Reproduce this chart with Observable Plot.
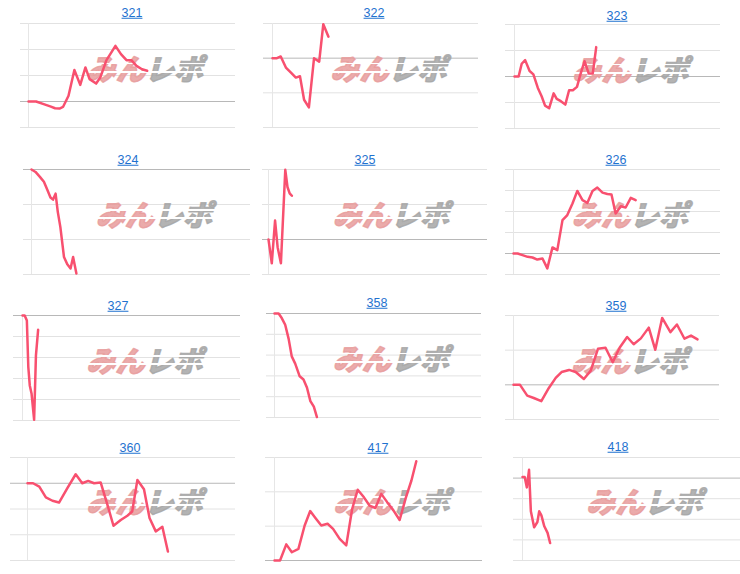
<!DOCTYPE html>
<html><head><meta charset="utf-8">
<script src="https://cdn.jsdelivr.net/npm/d3@7"></script>
<script src="https://cdn.jsdelivr.net/npm/@observablehq/plot@0.6"></script>
<style>
body{margin:0;background:#fff;}
#root{position:relative;width:740px;height:574px;overflow:hidden;font-family:"Liberation Sans",Arial,sans-serif;}
.ttl{position:absolute;transform:translate(-50%,-50%);color:#1f72cf;text-decoration:underline;font-size:12.5px;white-space:nowrap;line-height:1;}
.pnl{position:absolute;}
.pnl svg{overflow:visible;}
</style></head><body><div id="root"></div>
<svg width="0" height="0" style="position:absolute">
  <defs>
    <linearGradient id="wmPink" x1="0" y1="0" x2="0" y2="1">
      <stop offset="0" stop-color="#e79c9c"/><stop offset="0.40" stop-color="#e79c9c"/>
      <stop offset="0.40" stop-color="#ffffff"/><stop offset="0.445" stop-color="#ffffff"/>
      <stop offset="0.445" stop-color="#e79c9c"/><stop offset="0.60" stop-color="#e79c9c"/>
      <stop offset="0.60" stop-color="#ffffff"/><stop offset="0.64" stop-color="#ffffff"/>
      <stop offset="0.64" stop-color="#e79c9c"/><stop offset="1" stop-color="#e79c9c"/>
    </linearGradient>
    <linearGradient id="wmGray" x1="0" y1="0" x2="0" y2="1">
      <stop offset="0" stop-color="#a6a6a6"/><stop offset="0.40" stop-color="#a6a6a6"/>
      <stop offset="0.40" stop-color="#ffffff"/><stop offset="0.445" stop-color="#ffffff"/>
      <stop offset="0.445" stop-color="#a6a6a6"/><stop offset="0.60" stop-color="#a6a6a6"/>
      <stop offset="0.60" stop-color="#ffffff"/><stop offset="0.64" stop-color="#ffffff"/>
      <stop offset="0.64" stop-color="#a6a6a6"/><stop offset="1" stop-color="#a6a6a6"/>
    </linearGradient>
  </defs>
</svg>
<script>
// ---- data (x: day in period, y: change in gridline units) ----
const names = ["321","322","323","324","325","326","327","358","359","360","417","418"];

const days321 = [0,2.2,4.4,6.3,7.7,9.0,10.0,11.6,13.3,15.0,16.5,17.7,19.6,20.8,22.6,23.7,25.2,26.8,28.4,29.8,31.3,32.9,34.4];
const values321 = [0,0,-0.10,-0.19,-0.26,-0.27,-0.21,0.22,1.21,0.64,1.31,0.86,0.69,0.92,1.59,1.82,2.14,1.82,1.59,1.59,1.37,1.24,1.18];
const ticks321 = [-1,0,1,2,3];

const days322 = [0,1.3,2.4,3.9,5.3,6.8,8.0,9.2,10.6,12.1,13.6,14.8,16.3];
const values322 = [0,0,0.05,-0.27,-0.41,-0.56,-0.52,-1.20,-1.42,0,-0.10,0.98,0.62];
const ticks322 = [-2,-1,0,1];

const days323 = [0,1.2,2.1,3.1,4.4,5.5,6.8,7.9,8.9,10.1,11.4,12.3,13.5,14.8,15.9,17.0,18.2,19.2,20.4,21.6,22.8,23.8];
const values323 = [0,0,0.49,0.63,0.21,0.08,-0.44,-0.76,-1.12,-1.22,-0.65,-0.86,-0.95,-1.08,-0.53,-0.53,-0.40,0.08,0.59,0.12,0.12,1.13];
const ticks323 = [-2,-1,0,1,2];

const days324 = [0,1.1,2.3,3.4,4.3,5.2,5.9,6.6,7.2,7.9,8.9,9.8,10.7,11.4,12.3];
const values324 = [0,-0.07,-0.21,-0.35,-0.57,-0.80,-0.86,-0.69,-1.21,-1.64,-2.50,-2.71,-2.83,-2.50,-2.97];
const ticks324 = [-3,-2,-1,0];

const days325 = [0,0.9,1.8,2.5,3.4,4.6,5.2,5.8,6.4];
const values325 = [0,-0.68,0.54,-0.22,-0.68,1.99,1.50,1.32,1.25];
const ticks325 = [-1,0,1,2];

const days326 = [0,1.2,2.6,4.1,5.5,6.9,8.4,9.8,11.3,12.7,14.2,15.6,17.1,18.5,20.0,21.4,22.9,24.3,25.8,27.2,28.4,29.6,31.1,32.5,34.0,35.4];
const values326 = [0,0,-0.08,-0.16,-0.19,-0.29,-0.24,-0.71,0.29,0.16,1.59,1.83,2.38,2.98,2.54,2.41,2.98,3.14,2.90,2.83,2.81,1.90,2.25,2.19,2.65,2.54];
const ticks326 = [-1,0,1,2,3,4];

const days327 = [0,0.6,1.2,1.6,2.0,2.5,3.2,3.7,4.3];
const values327 = [0,0,-0.24,-2.46,-3.33,-3.73,-4.97,-1.90,-0.68];
const ticks327 = [-5,-4,-3,-2,-1,0];

const days358 = [0,1.2,2.1,3.1,4.1,5.0,6.0,7.3,8.4,9.4,10.4,11.4,12.3];
const values358 = [0,0,-0.22,-0.54,-1.22,-2.06,-2.41,-3.02,-3.17,-3.56,-4.21,-4.48,-4.98];
const ticks358 = [-5,-4,-3,-2,-1,0];

const days359 = [0,1.9,4.0,5.9,8.1,10.3,12.3,14.0,16.2,18.1,20.5,22.5,24.6,26.8,28.9,30.9,33.1,35.0,37.1,39.4,41.3,43.3,45.7,47.6,49.8,51.7,53.6];
const values359 = [0,0,-0.31,-0.38,-0.47,-0.09,0.20,0.37,0.43,0.37,0.17,0.41,1.04,1.07,0.65,1.07,1.38,1.17,1.34,1.65,1.01,1.93,1.52,1.74,1.33,1.42,1.31];
const ticks359 = [-1,0,1,2];

const days360 = [0,1.6,3.4,5.3,7.2,9.1,11.5,13.9,15.8,17.5,19.2,21.1,23.0,24.8,26.9,28.8,30.2,31.7,33.6,35.2,37.0,38.9,40.5];
const values360 = [0,0,-0.13,-0.55,-0.68,-0.75,-0.19,0.35,0,0.09,0,0.03,-0.81,-1.65,-1.43,-1.26,-1.10,0.13,-0.23,-1.35,-1.87,-1.69,-2.65];
const ticks360 = [-3,-2,-1,0,1];

const days417 = [0,1.6,3.4,5.0,6.9,8.7,10.3,11.8,13.5,15.3,16.9,18.8,20.7,22.4,24.0,25.8,27.4,29.1,30.8,32.5,34.3,36.1,37.8,39.5,40.9];
const values417 = [0,0,0.47,0.24,0.34,1.02,1.44,1.24,1.02,1.07,0.92,0.63,0.44,1.50,2.06,1.84,1.60,1.53,1.94,1.70,1.46,1.18,1.80,2.33,2.89];
const ticks417 = [0,1,2,3];

const days418 = [0,0.6,1.2,1.8,2.3,3.2,4.1,4.6,5.2,6.0,6.9,7.6];
const values418 = [0.05,0.05,-0.45,0.40,-1.61,-2.39,-2.13,-1.61,-1.81,-2.34,-2.66,-3.15];
const ticks418 = [-4,-3,-2,-1,0,1];

const periodDays = [0, 60];
const watermarkA = "みん";
const watermarkB = "レポ";

// ---- layout (pixels) ----
const layout = {
  "321": {gl:20,  ax:28,  gr:235, top:23,  bottom:127, tx:132, ty:13},
  "322": {gl:263, ax:272, gr:478, top:23,  bottom:127, tx:374, ty:13},
  "323": {gl:505, ax:514, gr:720, top:24,  bottom:128, tx:617, ty:16},
  "324": {gl:23,  ax:31,  gr:250, top:169, bottom:274, tx:128, ty:160},
  "325": {gl:262, ax:268, gr:487, top:169, bottom:274, tx:365, ty:160},
  "326": {gl:505, ax:513, gr:720, top:169, bottom:274, tx:616, ty:160},
  "327": {gl:13,  ax:22,  gr:240, top:315, bottom:420, tx:118, ty:306},
  "358": {gl:266, ax:274, gr:481, top:313, bottom:417, tx:377, ty:303},
  "359": {gl:505, ax:513, gr:719, top:315, bottom:419, tx:616, ty:306},
  "360": {gl:10,  ax:27,  gr:235, top:457, bottom:560, tx:130, ty:448},
  "417": {gl:265, ax:274, gr:482, top:457, bottom:560, tx:378, ty:448},
  "418": {gl:513, ax:522, gr:740, top:457, bottom:560, tx:618, ty:447}
};

const series = {
  "321":[days321,values321,ticks321], "322":[days322,values322,ticks322], "323":[days323,values323,ticks323],
  "324":[days324,values324,ticks324], "325":[days325,values325,ticks325], "326":[days326,values326,ticks326],
  "327":[days327,values327,ticks327], "358":[days358,values358,ticks358], "359":[days359,values359,ticks359],
  "360":[days360,values360,ticks360], "417":[days417,values417,ticks417], "418":[days418,values418,ticks418]
};

const root = document.getElementById("root");
const mt = 3, mb = 3;
const wmFont = '"Noto Sans CJK JP","Noto Sans",sans-serif';
const wmCommon = {frameAnchor: "middle", dx: 13, dy: -5, fontSize: 29, fontWeight: 900, fontStyle: "italic", fontFamily: wmFont, strokeWidth: 1.4, strokeLinejoin: "round"};

for (const name of names) {
  const L = layout[name];
  const [days, vals, ticks] = series[name];
  const data = days.map((d, i) => ({day: d, value: vals[i]}));
  const lo = d3.min(ticks), hi = d3.max(ticks);
  const ml = L.ax - L.gl;
  const plot = Plot.plot({
    width: L.gr - L.gl,
    height: L.bottom - L.top + mt + mb,
    marginLeft: ml, marginRight: 0, marginTop: mt, marginBottom: mb,
    x: {domain: periodDays, axis: null},
    y: {domain: [lo, hi], axis: null},
    style: {background: "transparent"},
    marks: [
      Plot.ruleY(ticks.filter(t => t !== 0), {stroke: "#e2e2e2", strokeWidth: 1, insetLeft: -ml}),
      Plot.ruleX([0], {y1: lo, y2: hi, stroke: "#e6e6e6", strokeWidth: 1}),
      Plot.ruleY([0], {stroke: "#b8b8b8", strokeWidth: 1, insetLeft: -ml}),
      Plot.text([watermarkA], {...wmCommon, textAnchor: "end", fill: "url(#wmPink)", stroke: "url(#wmPink)", fillOpacity: 0.85, strokeOpacity: 0.85}),
      Plot.text([watermarkB], {...wmCommon, textAnchor: "start", fill: "url(#wmGray)", stroke: "url(#wmGray)", fillOpacity: 0.85, strokeOpacity: 0.85}),
      Plot.line(data, {x: "day", y: "value", stroke: "#f8506f", strokeWidth: 2.5, strokeLinejoin: "round", strokeLinecap: "round"})
    ]
  });
  const div = document.createElement("div");
  div.className = "pnl";
  div.style.left = L.gl + "px";
  div.style.top = (L.top - mt) + "px";
  div.appendChild(plot);
  root.appendChild(div);
  const t = document.createElement("a");
  t.className = "ttl";
  t.textContent = name;
  t.style.left = L.tx + "px";
  t.style.top = L.ty + "px";
  root.appendChild(t);
}
</script>
</body></html>
